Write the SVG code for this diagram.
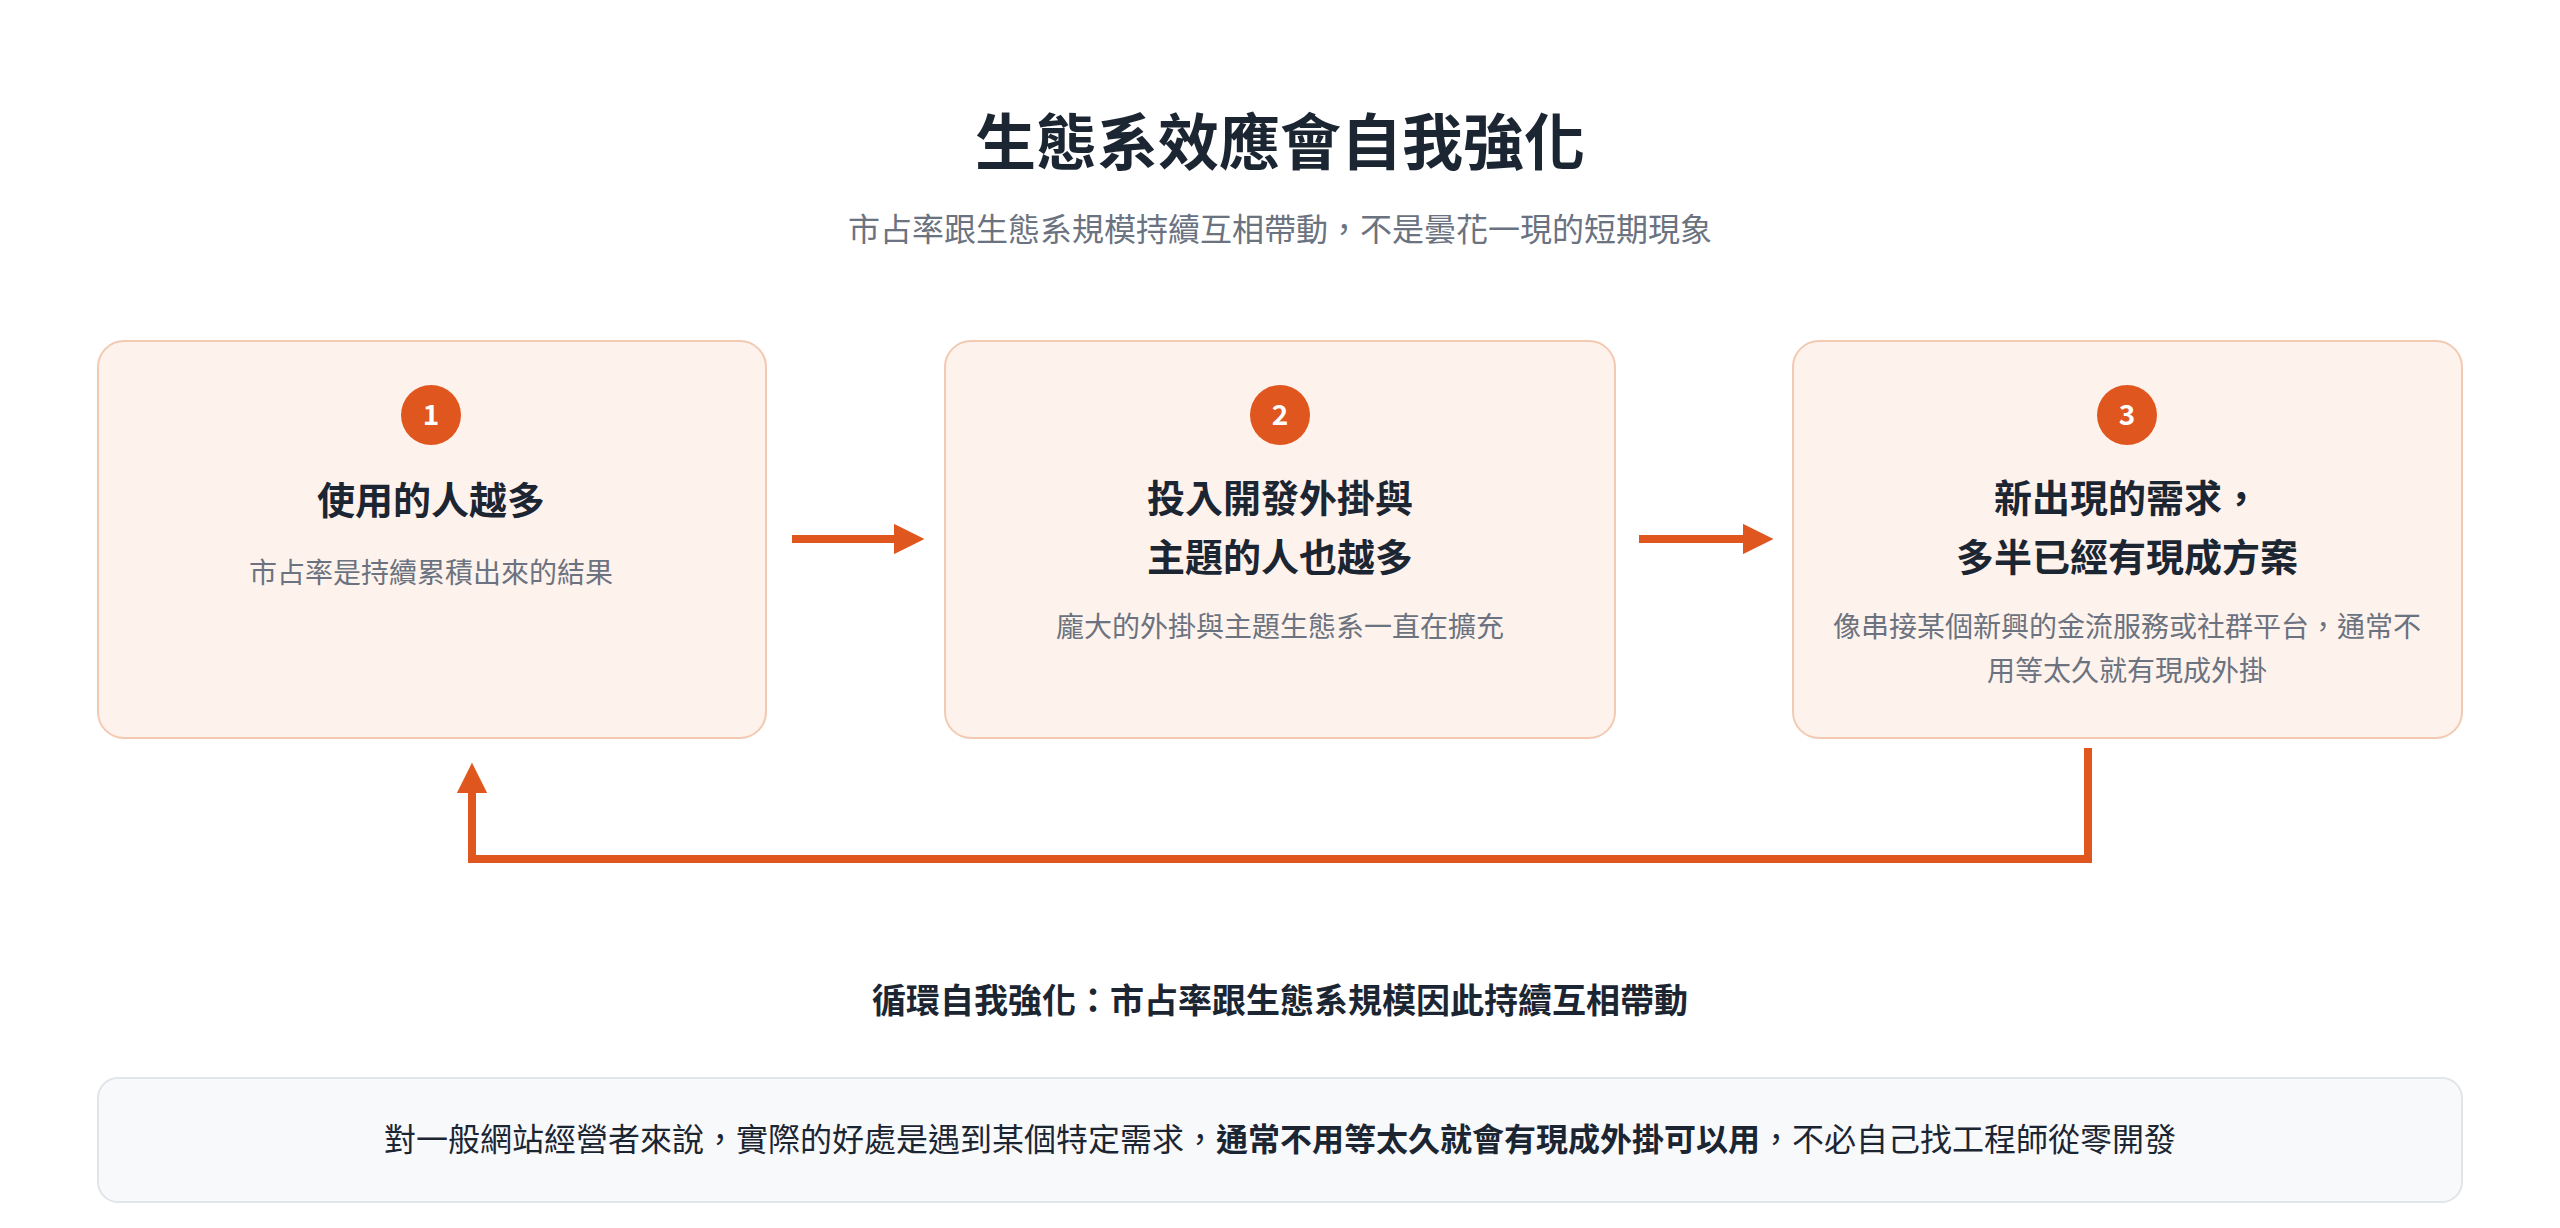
<svg xmlns="http://www.w3.org/2000/svg" width="2560" height="1228" viewBox="0 0 2560 1228">
<style>
text{font-family:"Noto Sans CJK TC","Noto Sans",sans-serif;text-anchor:middle}
.box{fill:#fef2ec;stroke:#f3c9b2;stroke-width:2}
.num{fill:#e0561f}
.n{fill:#fff;font-size:28px;font-weight:700}
.t{fill:#1c2633;font-size:38px;font-weight:700}
.d{fill:#6b7280;font-size:28px}
.ln{stroke:#e0561f;stroke-width:8;fill:none}
</style>
<defs><marker id="ah" viewBox="0 0 10 10" refX="2" refY="5" markerWidth="3.8" markerHeight="3.8" orient="auto" markerUnits="strokeWidth"><path d="M0,0L10,5L0,10z" fill="#e0561f"/></marker></defs>
<rect width="2560" height="1228" fill="#fff"/>
<text x="1280" y="165" font-size="61" font-weight="700" fill="#1c2633">生態系效應會自我強化</text>
<text x="1280" y="241" font-size="32" fill="#6b7280">市占率跟生態系規模持續互相帶動，不是曇花一現的短期現象</text>
<g id="n1"><rect class="box" x="98" y="341" width="668" height="397" rx="26"/><circle class="num" cx="431" cy="415" r="30"/><text class="n" x="431" y="425">1</text><text class="t" x="431" y="514">使用的人越多</text><text class="d" x="431" y="583">市占率是持續累積出來的結果</text></g>
<g id="n2"><rect class="box" x="945" y="341" width="670" height="397" rx="26"/><circle class="num" cx="1280" cy="415" r="30"/><text class="n" x="1280" y="425">2</text><text class="t" x="1280" y="512">投入開發外掛與</text><text class="t" x="1280" y="571">主題的人也越多</text><text class="d" x="1280" y="637">龐大的外掛與主題生態系一直在擴充</text></g>
<g id="n3"><rect class="box" x="1793" y="341" width="669" height="397" rx="26"/><circle class="num" cx="2127" cy="415" r="30"/><text class="n" x="2127" y="425">3</text><text class="t" x="2127" y="512">新出現的需求，</text><text class="t" x="2127" y="571">多半已經有現成方案</text><text class="d" x="2127" y="637">像串接某個新興的金流服務或社群平台，通常不</text><text class="d" x="2127" y="681">用等太久就有現成外掛</text></g>
<g id="connectors">
<line class="ln" x1="792" y1="539" x2="900" y2="539" marker-end="url(#ah)"/>
<line class="ln" x1="1639" y1="539" x2="1749" y2="539" marker-end="url(#ah)"/>
<path class="ln" d="M2088,748V859H472V787" marker-end="url(#ah)"/>
</g>
<text x="1280" y="1013" font-size="34" font-weight="700" fill="#1c2633">循環自我強化：市占率跟生態系規模因此持續互相帶動</text>
<g id="note"><rect x="98" y="1078" width="2364" height="124" rx="20" fill="#f8f9fb" stroke="#e1e4e8" stroke-width="2"/>
<text x="1280" y="1151" font-size="32" fill="#1c2633">對一般網站經營者來說，實際的好處是遇到某個特定需求，<tspan font-weight="700">通常不用等太久就會有現成外掛可以用</tspan>，不必自己找工程師從零開發</text></g>
</svg>
